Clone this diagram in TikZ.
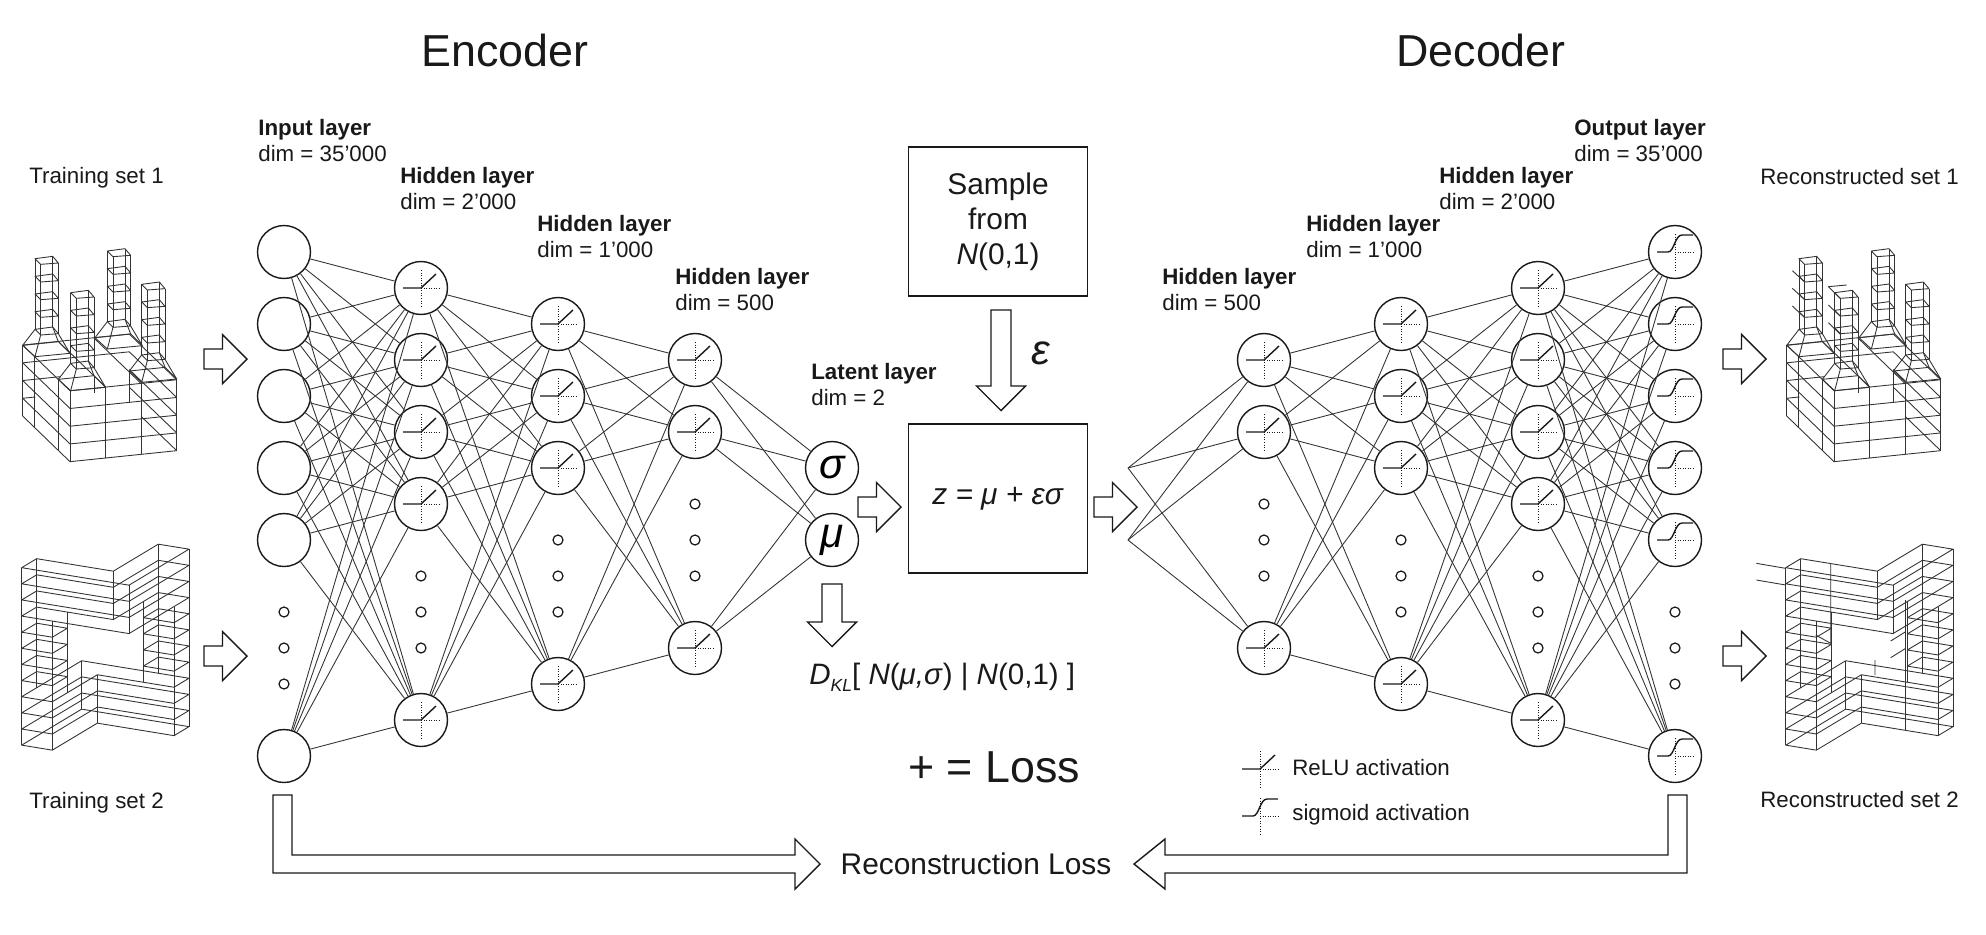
\documentclass[tikz,border=0pt]{standalone}
\usepackage{fontspec}
\setmainfont{Liberation Sans}
\usetikzlibrary{positioning}
\usetikzlibrary{calc}
\definecolor{inkc}{gray}{0.1}
\definecolor{linkc}{gray}{0.2}
\tikzset{
  nrn_n/.style = {circle, draw=inkc, fill=white, line width=0.8pt, inner sep=0pt,
    minimum size=1.06cm},% plain neuron
  nrn_d/.style = {circle, draw=inkc, line width=0.7pt, inner sep=0pt,
    minimum size=0.2cm},% dot in a column
  nrn_l/.style = {nrn_n, font=\fontsize{24}{24}\selectfont\itshape},% latent neuron
  lnk/.style = {draw=linkc, line width=0.5pt},
  wire/.style = {draw=linkc, line width=0.5pt, line join=round},
  blk/.style = {draw=inkc, line width=0.8pt, fill=white, line join=miter},
  lay_t/.style = {anchor=west, inner sep=0pt, align=left,
    font=\fontsize{12.7}{14.8}\selectfont, text=inkc},
  set_t/.style = {anchor=west, inner sep=0pt, font=\fontsize{12.7}{14.8}\selectfont,
    text=inkc},
  big_t/.style = {inner sep=0pt, font=\fontsize{17}{20}\selectfont, text=inkc,
    align=center},
  head_t/.style = {inner sep=0pt, font=\fontsize{25.5}{28}\selectfont, text=inkc},
  boxn/.style = {big_t, draw=inkc, line width=0.8pt, minimum width=3.58cm,
    minimum height=2.98cm},
  pics/blockar/.style = {code={
    \draw[blk] (0,-10) -- (#1,-10) -- (#1,-24.5) -- ({#1+24.5},0) -- (#1,24.5)
      -- (#1,10) -- (0,10) -- cycle;}},
  pics/relu_g/.style = {code={
    \draw[densely dotted, line width=0.45pt, inkc] (0,-18) -- (0,18);
    \draw[densely dotted, line width=0.45pt, inkc] (0,0) -- (18,0);
    \draw[line width=0.8pt, inkc] (-18,0) -- (0,0) -- (15,-14);}},
  pics/sigm_g/.style = {code={
    \draw[densely dotted, line width=0.45pt, inkc] (0,-18) -- (0,18);
    \draw[densely dotted, line width=0.45pt, inkc] (0,0) -- (18,0);
    \draw[line width=0.8pt, inkc] (-18,0) -- (-7,0) .. controls (-1,0) and (0,-17) .. (7,-17) -- (18,-17);}}
}
% points of the two wire models, u / v / level
\def\ap(#1,#2,#3){({210+320*(#1)-142*(#2)},{665-33*(#1)-137*(#2)-53.2*(#3)})}
\def\bp(#1,#2,#3){({65+46*(#1)+45*(#2)},{113+7.5*(#1)-27*(#2)+48.4*(#3)})}
\newcommand{\towerA}[2]{%
  \begin{scope}[shift={(#1,#2)}]
    \draw[wire] (0,0) -- (37,34) -- (142,24) -- (107,-11) -- cycle;
    \draw[wire] (0,0) -- (37,-48) (37,34) -- (54,-31) (142,24) -- (107,-35) (107,-11) -- (90,-55);
    \foreach \h in {0,53,106,159,212}
      \draw[wire] (37,-48-\h) -- (54,-31-\h) -- (107,-35-\h) -- (90,-55-\h) -- cycle;
    \draw[wire] (37,-48) -- (37,-260) (54,-31) -- (54,-243) (107,-35) -- (107,-247) (90,-55) -- (90,-267);
  \end{scope}}
\newcommand{\modelA}{%
  \foreach \k in {0,...,4}
    \draw[wire] \ap(0,1,\k) -- \ap(0,0,\k) -- \ap(1,0,\k);
  \draw[wire] \ap(0,0,0) -- \ap(0,0,4) \ap(0,.25,0) -- \ap(0,.25,4) \ap(0,.75,0) -- \ap(0,.75,4)
    \ap(0,1,0) -- \ap(0,1,4) \ap(.334,0,0) -- \ap(.334,0,4) \ap(.666,0,0) -- \ap(.666,0,4)
    \ap(1,0,0) -- \ap(1,0,4);
  \draw[wire] \ap(1,0,0) -- \ap(1,.75,0) \ap(1,0,1) -- \ap(1,1,1) \ap(1,0,2) -- \ap(1,1,2)
    \ap(1,0,3) -- \ap(1,1,3) \ap(1,0,4) -- \ap(1,1,4);
  \draw[wire] \ap(.334,0,4) -- \ap(.334,1,4) \ap(.666,0,4) -- \ap(.666,1,4);
  \draw[wire] \ap(0,1,4) -- \ap(1,1,4) \ap(0,1,3) -- \ap(1,1,3) \ap(0,1,2) -- \ap(.35,1,2)
    \ap(0,1,1) -- \ap(.12,1,1);
  \draw[wire] (388,393) -- (388,490) (282,410) -- (282,460);
  \towerA{68}{316}\towerA{285}{293}\towerA{175}{418}\towerA{388}{393}}
\newcommand{\modelB}{%
  % upper arm
  \foreach \k in {0,...,3}
    \draw[wire] \bp(0,0,\k) -- \bp(7,0,\k) -- \bp(7,4,\k) -- \bp(5,4,\k) -- \bp(5,1,\k) -- \bp(0,1,\k) -- cycle;
  % lower arm
  \foreach \k in {8,...,11}
    \draw[wire] \bp(0,0,\k) -- \bp(2,0,\k) -- \bp(2,3,\k) -- \bp(7,3,\k) -- \bp(7,4,\k) -- \bp(0,4,\k) -- cycle;
  % the two columns
  \foreach \k in {4,...,7} {
    \draw[wire] \bp(0,0,\k) -- \bp(2,0,\k) -- \bp(2,1,\k) -- \bp(0,1,\k) -- cycle;
    \draw[wire] \bp(5,3,\k) -- \bp(7,3,\k) -- \bp(7,4,\k) -- \bp(5,4,\k) -- cycle;
  }
  \draw[wire] \bp(0,0,0) -- \bp(0,0,11) \bp(2,0,3) -- \bp(2,0,11) \bp(0,1,0) -- \bp(0,1,8)
    \bp(2,1,3) -- \bp(2,1,8) \bp(7,0,0) -- \bp(7,0,3) \bp(5,1,0) -- \bp(5,1,3)
    \bp(5,4,0) -- \bp(5,4,8) \bp(7,4,0) -- \bp(7,4,11) \bp(5,3,3) -- \bp(5,3,8)
    \bp(7,3,3) -- \bp(7,3,11) \bp(0,4,8) -- \bp(0,4,11) \bp(2,3,8) -- \bp(2,3,11);}
\begin{document}
\begin{tikzpicture}[x=0.02cm,y=-0.02cm]
\useasboundingbox (0,0) rectangle (1986,934);

% titles
\node[head_t] (t_enc) at (505,50) {Encoder};
\node[head_t] (t_dec) at (1481,50) {Decoder};

% encoder layers
\foreach \n/\y in {i1/252,i2/324,i3/396,i4/468,i5/540,i6/756}
  \node[nrn_n] (\n) at (284,\y) {};
\foreach \n/\y in {a1/288,a2/360,a3/432,a4/504,a5/720}
  \node[nrn_n] (\n) at (421,\y) {};
\foreach \n/\y in {b1/324,b2/396,b3/468,b4/684}
  \node[nrn_n] (\n) at (558,\y) {};
\foreach \n/\y in {c1/360,c2/432,c3/648}
  \node[nrn_n] (\n) at (695,\y) {};
\node[nrn_l] (sig) at (832,468) {σ};
\node[nrn_l] (mu) at (832,540) {μ};

% decoder layers
\foreach \n/\y in {d1/360,d2/432,d3/648}
  \node[nrn_n] (\n) at (1264,\y) {};
\foreach \n/\y in {e1/324,e2/396,e3/468,e4/684}
  \node[nrn_n] (\n) at (1401,\y) {};
\foreach \n/\y in {f1/288,f2/360,f3/432,f4/504,f5/720}
  \node[nrn_n] (\n) at (1538,\y) {};
\foreach \n/\y in {o1/252,o2/324,o3/396,o4/468,o5/540,o6/756}
  \node[nrn_n] (\n) at (1675,\y) {};

% dots
\foreach \n/\x/\y in {di1/284/612,di2/284/648,di3/284/684,da1/421/576,da2/421/612,da3/421/648,
  db1/558/540,db2/558/576,db3/558/612,dc1/695/504,dc2/695/540,dc3/695/576,
  dd1/1264/504,dd2/1264/540,dd3/1264/576,de1/1401/540,de2/1401/576,de3/1401/612,
  df1/1538/576,df2/1538/612,df3/1538/648,do1/1675/612,do2/1675/648,do3/1675/684}
  \node[nrn_d] (\n) at (\x,\y) {};

% links
\foreach \p in {i1,i2,i3,i4,i5,i6} \foreach \q in {a1,a2,a3,a4,a5}
  \draw[lnk] (\p) -- (\q);
\foreach \p in {a1,a2,a3,a4,a5} \foreach \q in {b1,b2,b3,b4}
  \draw[lnk] (\p) -- (\q);
\foreach \p in {b1,b2,b3,b4} \foreach \q in {c1,c2,c3}
  \draw[lnk] (\p) -- (\q);
\foreach \p in {c1,c2,c3} \foreach \q in {sig,mu}
  \draw[lnk] (\p) -- (\q);
\coordinate (zs) at (1128,468);
\coordinate (zm) at (1128,540);
\foreach \p in {zs,zm} \foreach \q in {d1,d2,d3}
  \draw[lnk] (\p) -- (\q);
\foreach \p in {d1,d2,d3} \foreach \q in {e1,e2,e3,e4}
  \draw[lnk] (\p) -- (\q);
\foreach \p in {e1,e2,e3,e4} \foreach \q in {f1,f2,f3,f4,f5}
  \draw[lnk] (\p) -- (\q);
\foreach \p in {f1,f2,f3,f4,f5} \foreach \q in {o1,o2,o3,o4,o5,o6}
  \draw[lnk] (\p) -- (\q);

% activations
\foreach \n in {a1,a2,a3,a4,a5,b1,b2,b3,b4,c1,c2,c3,d1,d2,d3,e1,e2,e3,e4,f1,f2,f3,f4,f5}
  \pic at (\n) {relu_g};
\foreach \n in {o1,o2,o3,o4,o5,o6}
  \pic at (\n) {sigm_g};

% layer labels
\node[lay_t] (t_i) at (258,141) {\textbf{Input layer}\\dim = 35’000};
\node[lay_t] (t_a) at (400,189) {\textbf{Hidden layer}\\dim = 2’000};
\node[lay_t] (t_b) at (537,237) {\textbf{Hidden layer}\\dim = 1’000};
\node[lay_t] (t_c) at (675,290) {\textbf{Hidden layer}\\dim = 500};
\node[lay_t] (t_l) at (811,385) {\textbf{Latent layer}\\dim = 2};
\node[lay_t] (t_d) at (1162,290) {\textbf{Hidden layer}\\dim = 500};
\node[lay_t] (t_e) at (1306,237) {\textbf{Hidden layer}\\dim = 1’000};
\node[lay_t] (t_f) at (1439,189) {\textbf{Hidden layer}\\dim = 2’000};
\node[lay_t] (t_o) at (1574,141) {\textbf{Output layer}\\dim = 35’000};

\node[set_t] (t_s1) at (29,177.5) {Training set 1};
\node[set_t] (t_s2) at (29,802.5) {Training set 2};
\node[set_t] (t_r1) at (1760,176.5) {Reconstructed set 1};
\node[set_t] (t_r2) at (1760,800) {Reconstructed set 2};

% wire models
\begin{scope}[shift={(0,240)},scale=1/3]
  \modelA
\end{scope}
\begin{scope}[shift={(1764,240)},scale=1/3]
  \modelA
  \draw[wire] (85,92) -- (121,125) (85,145) -- (121,178) (85,198) -- (121,232);
  \draw[wire] (248,135) -- (193,140) -- (228,175) (193,195) -- (228,228) (193,248) -- (228,282);
\end{scope}
\begin{scope}[shift={(0,530)},scale=1/3]
  \modelB
\end{scope}
\begin{scope}[shift={(1764,530)},scale=1/3]
  \modelB
  \draw[wire] (-23,100) -- (65,115) (-23,150) -- (65,165);
  \draw[wire] (200,100) -- (200,340) -- (155,315);
  \draw[wire] (425,210) -- (425,600);
  \draw[wire] (380,333) -- (425,305) (380,383) -- (425,355) (333,390) -- (333,435);
\end{scope}

% block arrows
\pic at (204,359) {blockar=18.5};
\pic at (204,656) {blockar=18.5};
\pic at (1723,359) {blockar=18.5};
\pic at (1723,656) {blockar=18.5};
\pic at (858,507) {blockar=18.5};
\pic at (1094,507) {blockar=18.5};
\pic[rotate=-90] at (1001,310) {blockar=76};
\pic[rotate=-90] at (832,584) {blockar=38};

% centre
\node[boxn] (smp) at (998,221.5) {Sample\\from\\\textit{N}(0,1)};
\node[boxn] (zbox) at (998,498.5) {\textit{z = μ + εσ}};
\node[inner sep=0pt, font=\fontsize{24}{24}\selectfont\itshape, text=inkc] (eps) at (1041,353) {ε};
\node[big_t, anchor=base west, font=\fontsize{16.8}{20}\selectfont] (kl) at (809,684) {\textit{D}\raisebox{-0.5ex}{\fontsize{10}{10}\selectfont\textit{KL}}[ \textit{N}(\textit{μ,σ}) | \textit{N}(0,1) ]};
\node[head_t] (loss) at (994,767) {+ = Loss};
\node[big_t] (rec) at (976,864) {Reconstruction Loss};

% reconstruction arrows
\draw[blk] (273,795) -- (292,795) -- (292,855) -- (795,855) -- (795,839) -- (820,864)
  -- (795,889) -- (795,873) -- (273,873) -- cycle;
\draw[blk] (1687,795) -- (1668,795) -- (1668,855) -- (1165,855) -- (1165,839) -- (1134,864)
  -- (1165,889) -- (1165,873) -- (1687,873) -- cycle;

% legend
\pic at (1260,769) {relu_g};
\pic at (1260,816) {sigm_g};
\node[set_t] (t_rl) at (1292,768) {ReLU activation};
\node[set_t] (t_sg) at (1292,815) {sigmoid activation};
\end{tikzpicture}
\end{document}
